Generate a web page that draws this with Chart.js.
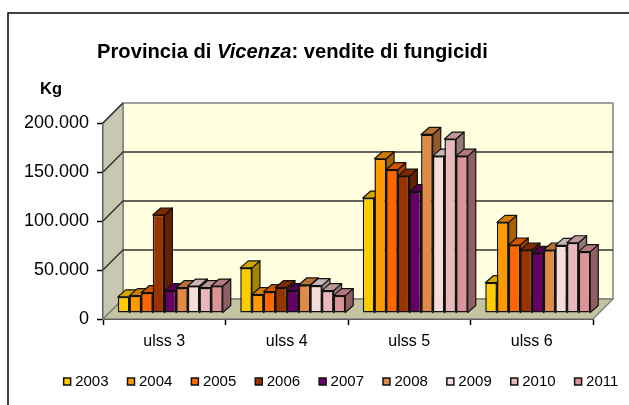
<!DOCTYPE html>
<html>
<head>
<meta charset="utf-8">
<title>Vendite di fungicidi</title>
<script src="https://cdn.jsdelivr.net/npm/chart.js@4/dist/chart.umd.min.js"></script>
<style>
html, body { margin: 0; padding: 0; background: #fff; overflow: hidden; }
canvas { display: block; }
</style>
</head>
<body>
<canvas id="barChart" width="629" height="405"></canvas>
<script>
var categories = ['ulss 3', 'ulss 4', 'ulss 5', 'ulss 6']
var years = ['2003', '2004', '2005', '2006', '2007', '2008', '2009', '2010', '2011']

var v2003 = [16500, 46000, 117300, 30900]
var v2004 = [17700, 18800, 157400, 92500]
var v2005 = [20700, 21800, 146200, 69400]
var v2006 = [100000, 25800, 139700, 64300]
var v2007 = [22800, 22800, 123800, 60900]
var v2008 = [25800, 28600, 182200, 64300]
var v2009 = [27500, 27900, 160100, 69000]
var v2010 = [25800, 22800, 177500, 71700]
var v2011 = [27500, 17700, 160100, 62600]
var series = [v2003, v2004, v2005, v2006, v2007, v2008, v2009, v2010, v2011]

var colors = ['#FFCC00', '#FF9900', '#FF6600', '#993300', '#660066', '#E08A45', '#F4DEDC', '#E8B8BA', '#DC9498']

var FONT = '"Liberation Sans", Arial, sans-serif'
var WALL = 20      // depth of the box
var BAR_X = 6      // bars stand a bit behind the front of the floor
var BAR_Y = 6
var DEPTH = 8

function shade(hex, k) {
    var n = parseInt(hex.slice(1), 16)
    var r = Math.round((n >> 16) * k)
    var g = Math.round(((n >> 8) & 255) * k)
    var b = Math.round((n & 255) * k)
    return 'rgb(' + r + ',' + g + ',' + b + ')'
}

function poly(ctx, pts, fill, stroke, lw) {
    ctx.beginPath()
    ctx.moveTo(pts[0][0], pts[0][1])
    for (var i = 1; i < pts.length; i++) ctx.lineTo(pts[i][0], pts[i][1])
    ctx.closePath()
    ctx.fillStyle = fill
    ctx.fill()
    ctx.strokeStyle = stroke
    ctx.lineWidth = lw
    ctx.lineJoin = 'round'
    ctx.stroke()
}

function drawBox(chart) {
    var ctx = chart.ctx
    var a = chart.chartArea
    var yScale = chart.scales.y

    // frame
    ctx.strokeStyle = '#000'
    ctx.lineWidth = 1.5
    ctx.beginPath()
    ctx.moveTo(8, 405)
    ctx.lineTo(8, 13)
    ctx.lineTo(629, 13)
    ctx.stroke()

    poly(ctx, [[a.left + WALL, a.top - WALL], [a.right + WALL, a.top - WALL], [a.right + WALL, a.bottom - WALL], [a.left + WALL, a.bottom - WALL]], '#FFFFE0', '#808080', 1.5)
    poly(ctx, [[a.left, a.top], [a.left + WALL, a.top - WALL], [a.left + WALL, a.bottom - WALL], [a.left, a.bottom]], '#C8C8B0', '#808080', 1.5)
    poly(ctx, [[a.left, a.bottom], [a.left + WALL, a.bottom - WALL], [a.right + WALL, a.bottom - WALL], [a.right, a.bottom]], '#C4C4A0', '#808080', 1.5)

    ctx.strokeStyle = '#333'
    ctx.lineWidth = 1.5
    yScale.ticks.forEach(function (t) {
        if (t.value === 0) return
        var py = yScale.getPixelForValue(t.value)
        ctx.beginPath()
        ctx.moveTo(a.left, py)
        ctx.lineTo(a.left + WALL, py - WALL)
        if (t.value < yScale.max) ctx.lineTo(a.right + WALL, py - WALL)
        ctx.stroke()
    })
}

var boxPlugin = {
    id: 'box',
    afterLayout: function (chart) {
        // legend sits right of the canvas centre in the original
        chart.legend.left += 28
        chart.legend.right += 28
    },
    beforeDatasetsDraw: function (chart) {
        var ctx = chart.ctx
        ctx.save()
        drawBox(chart)
        ctx.translate(BAR_X, -BAR_Y)
        // 2003 first, so each later year covers the side of the one before
        for (var i = 0; i < years.length; i++) {
            var meta = chart.getDatasetMeta(i)
            var col = colors[i]
            meta.data.forEach(function (el) {
                var l = el.x - el.width / 2
                var r = el.x + el.width / 2
                poly(ctx, [[r, el.y], [r + DEPTH, el.y - DEPTH + 1], [r + DEPTH, el.base - DEPTH + 1], [r, el.base]], shade(col, 0.65), '#111', 1.2)
                poly(ctx, [[l, el.y], [l + DEPTH, el.y - DEPTH + 1], [r + DEPTH, el.y - DEPTH + 1], [r, el.y]], shade(col, 0.82), '#111', 1.2)
            })
            meta.controller.draw()
        }
        ctx.restore()
        return false
    },
    afterDraw: function (chart) {
        var ctx = chart.ctx
        ctx.save()
        ctx.fillStyle = '#000'
        ctx.textBaseline = 'alphabetic'
        var x = 97
        var parts = [['bold ', 'Provincia di '], ['italic bold ', 'Vicenza'], ['bold ', ': vendite di fungicidi']]
        parts.forEach(function (p) {
            ctx.font = p[0] + '20.2px ' + FONT
            ctx.fillText(p[1], x, 58)
            x += ctx.measureText(p[1]).width
        })
        ctx.font = 'bold 16.5px ' + FONT
        ctx.fillText('Kg', 40, 94)
        ctx.restore()
    }
}

var datasets = years.map(function (y, i) {
    return {
        label: y,
        data: series[i],
        backgroundColor: colors[i],
        borderColor: '#111',
        borderWidth: 1.5,
        borderSkipped: false,
        pointStyle: 'rect'
    }
})

new Chart(document.getElementById('barChart').getContext('2d'), {
    type: 'bar',
    data: { labels: categories, datasets: datasets },
    plugins: [boxPlugin],
    options: {
        responsive: false,
        animation: false,
        categoryPercentage: 0.857,
        barPercentage: 1,
        layout: { padding: { left: 0, top: 123, right: 0, bottom: 6 } },
        plugins: {
            title: { display: false },
            tooltip: { enabled: false },
            legend: {
                position: 'bottom',
                labels: {
                    usePointStyle: true,
                    boxWidth: 1,
                    boxHeight: 7,
                    padding: 22,
                    color: '#000',
                    font: { family: FONT, size: 15 }
                }
            }
        },
        scales: {
            x: {
                grid: { drawOnChartArea: false, color: '#000', tickLength: 6, tickWidth: 1.5 },
                border: { color: '#000', width: 2 },
                ticks: { color: '#000', font: { family: FONT, size: 16 }, padding: 7, maxRotation: 0 },
                afterFit: function (s) { s.height = 33 }
            },
            y: {
                min: 0,
                max: 200000,
                grid: { drawOnChartArea: false, color: '#000', tickLength: 6, tickWidth: 1.5 },
                border: { color: '#000', width: 2 },
                ticks: {
                    stepSize: 50000,
                    color: '#000',
                    padding: 8,
                    font: { family: FONT, size: 18 },
                    callback: function (v) { return String(v).replace(/\B(?=(\d{3})+$)/g, '.') }
                },
                afterFit: function (s) { s.width = 103 }
            },
            // empty axis, keeps the margin on the right of the plot
            pad: {
                position: 'right',
                grid: { display: false },
                border: { display: false },
                ticks: { display: false },
                afterFit: function (s) { s.width = 36 }
            }
        }
    }
})
</script>
</body>
</html>
